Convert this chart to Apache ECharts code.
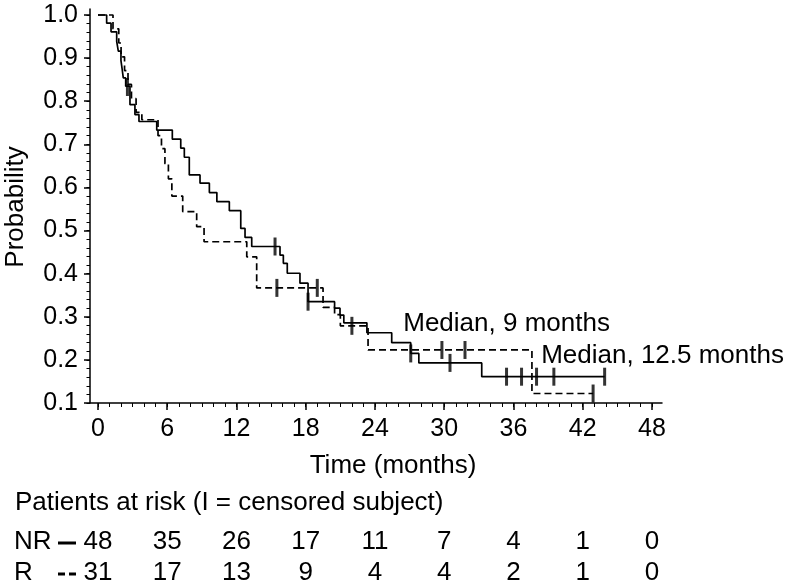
<!DOCTYPE html>
<html><head><meta charset="utf-8">
<script src="https://cdn.jsdelivr.net/npm/echarts@6/dist/echarts.min.js"></script>
<style>html,body{margin:0;padding:0;background:#fff}#c{width:789px;height:587px}</style>
</head><body><div id="c"></div>
<script>
// NR group (solid): step start times and survival after each step
const nrTimes = [0, 0.75, 1.13, 1.62, 1.76, 1.99, 2.1, 2.19, 2.4, 2.77, 3.2, 3.55, 5.09, 6.44, 7.17, 7.48, 7.91, 8.84, 9.65, 10.3, 11.38, 12.37, 12.74, 13.32, 15.77, 16.06, 16.4, 17.5, 18.2, 20.5, 20.97, 21.3, 23.3, 25.45, 27.1, 27.8, 33.25, 43.9];
const nrSurv  = [1.0, 0.981, 0.961, 0.939, 0.916, 0.894, 0.873, 0.854, 0.835, 0.792, 0.769, 0.753, 0.733, 0.712, 0.691, 0.670, 0.629, 0.610, 0.588, 0.567, 0.546, 0.505, 0.484, 0.463, 0.443, 0.424, 0.401, 0.378, 0.335, 0.320, 0.304, 0.286, 0.263, 0.240, 0.215, 0.193, 0.161, 0.161];
const nrCensorTimes = [2.55, 15.34, 18.2, 27.1, 30.5, 35.4, 36.7, 38.0, 39.5, 43.9];
const nrCensorSurv  = [0.833, 0.463, 0.335, 0.215, 0.193, 0.161, 0.161, 0.161, 0.161, 0.161];

// R group (dashed)
const rTimes = [0, 1.3, 1.8, 2.0, 2.3, 2.6, 2.9, 3.3, 3.8, 5.2, 5.5, 5.8, 6.1, 6.4, 7.34, 8.55, 9.19, 12.89, 13.75, 19.5, 20.5, 21.0, 23.4, 37.6, 42.9];
const rSurv  = [1.0, 0.968, 0.935, 0.903, 0.871, 0.839, 0.806, 0.774, 0.757, 0.72, 0.69, 0.655, 0.62, 0.58, 0.544, 0.509, 0.474, 0.439, 0.367, 0.322, 0.305, 0.279, 0.223, 0.122, 0.122];
const rCensorTimes = [15.5, 19.0, 22.0, 29.8, 31.8, 42.9];
const rCensorSurv  = [0.367, 0.367, 0.279, 0.223, 0.223, 0.122];

const xTicks = [0, 6, 12, 18, 24, 30, 36, 42, 48];
const yTicks = [0.1, 0.2, 0.3, 0.4, 0.5, 0.6, 0.7, 0.8, 0.9, 1.0];

const atRiskTimes = [0, 6, 12, 18, 24, 30, 36, 42, 48];
const nrAtRisk = [48, 35, 26, 17, 11, 7, 4, 1, 0];
const rAtRisk  = [31, 17, 13, 9, 4, 4, 2, 1, 0];

const noteTexts = ['Median, 9 months', 'Median, 12.5 months'];
const noteT = [26.45, 38.4];
const noteP = [0.283, 0.209];

const xMinor = []; for (let m = 0; m <= 48; m++) xMinor.push(m);
const yMinor = []; for (let k = 5; k <= 50; k++) yMinor.push(+(k * 0.02).toFixed(2));

const FONT = '"Liberation Sans", Arial, Helvetica, sans-serif';
const chart = echarts.init(document.getElementById('c'), null, {renderer: 'canvas'});

const pairs = (a, b) => a.map((t, i) => [t, b[i]]);

chart.setOption({
  animation: false,
  backgroundColor: '#fff',
  grid: {left: 90, right: 127, top: 9, bottom: 184, containLabel: false},
  xAxis: [
    {type: 'value', min: -0.693, max: 48.87, position: 'bottom',
     axisLine: {show: true, onZero: false, lineStyle: {color: '#000', width: 1.5}},
     axisTick: {show: true, customValues: xTicks, length: 7, lineStyle: {color: '#000', width: 1.5}},
     axisLabel: {show: true, customValues: xTicks, margin: 14, color: '#000', fontSize: 25, fontFamily: FONT},
     splitLine: {show: false}},
    {type: 'value', min: -0.693, max: 48.87, position: 'bottom', offset: 0,
     axisLine: {show: false, onZero: false},
     axisTick: {show: true, customValues: xMinor, length: 4, lineStyle: {color: '#000', width: 1}},
     axisLabel: {show: false}, splitLine: {show: false}}
  ],
  yAxis: [
    {type: 'value', min: 0.1, max: 1.0139, position: 'left',
     axisLine: {show: true, onZero: false, lineStyle: {color: '#000', width: 1.5}},
     axisTick: {show: true, customValues: yTicks, length: 6, lineStyle: {color: '#000', width: 1.5}},
     axisLabel: {show: true, customValues: yTicks, margin: 12, color: '#000', fontSize: 25, fontFamily: FONT,
                 formatter: v => (+v).toFixed(1)},
     splitLine: {show: false}},
    {type: 'value', min: 0.1, max: 1.0139, position: 'left', offset: 0,
     axisLine: {show: false, onZero: false},
     axisTick: {show: true, customValues: yMinor, length: 3.5, lineStyle: {color: '#000', width: 1}},
     axisLabel: {show: false}, splitLine: {show: false}}
  ],
  series: [
    {name: 'NR', type: 'line', step: 'end', data: pairs(nrTimes, nrSurv), symbol: 'none',
     lineStyle: {color: '#000', width: 1.7}, z: 3},
    {name: 'R', type: 'line', step: 'end', data: pairs(rTimes, rSurv), symbol: 'none',
     lineStyle: {color: '#000', width: 1.7, type: [7, 4]}, z: 2},
    {name: 'NR censored', type: 'scatter', data: pairs(nrCensorTimes, nrCensorSurv),
     symbol: 'rect', symbolSize: [3, 18], itemStyle: {color: '#000'}, z: 4},
    {name: 'R censored', type: 'scatter', data: pairs(rCensorTimes, rCensorSurv),
     symbol: 'rect', symbolSize: [3, 18], itemStyle: {color: '#000'}, z: 4}
  ]
});

const g = [];
const tstyle = (text, x, y, size, align) => ({type: 'text', x: x, y: y,
  style: {text: text, fill: '#000', font: size + 'px ' + FONT, textAlign: align || 'left', textVerticalAlign: 'middle'}});

// axis titles
g.push(tstyle('Time (months)', 393, 466, 26, 'center'));
g.push({type: 'text', x: 16, y: 207, rotation: Math.PI / 2,
  style: {text: 'Probability', fill: '#000', font: '26px ' + FONT, textAlign: 'center', textVerticalAlign: 'middle'}});

// median notes
noteTexts.forEach((s, i) => {
  const p = chart.convertToPixel({gridIndex: 0}, [noteT[i], noteP[i]]);
  g.push(tstyle(s, p[0], p[1], 26, 'left'));
});

// at-risk table
g.push(tstyle('Patients at risk (I = censored subject)', 15, 503, 26, 'left'));
const rowNR = 542, rowR = 573;
g.push(tstyle('NR', 14, rowNR, 26, 'left'));
g.push(tstyle('R', 14, rowR, 26, 'left'));
g.push({type: 'line', shape: {x1: 58, y1: rowNR + 1, x2: 76, y2: rowNR + 1}, style: {stroke: '#000', lineWidth: 3}});
g.push({type: 'line', shape: {x1: 58, y1: rowR + 1, x2: 65, y2: rowR + 1}, style: {stroke: '#000', lineWidth: 3}});
g.push({type: 'line', shape: {x1: 69, y1: rowR + 1, x2: 76, y2: rowR + 1}, style: {stroke: '#000', lineWidth: 3}});
atRiskTimes.forEach((t, i) => {
  const x = chart.convertToPixel({xAxisIndex: 0}, t);
  g.push(tstyle(String(nrAtRisk[i]), x, rowNR, 26, 'center'));
  g.push(tstyle(String(rAtRisk[i]), x, rowR, 26, 'center'));
});

chart.setOption({graphic: g});
</script>
</body></html>
